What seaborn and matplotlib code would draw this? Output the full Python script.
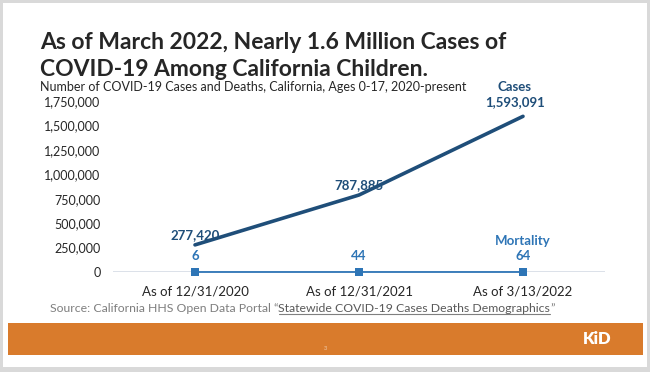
import numpy as np
import pandas as pd
import matplotlib
matplotlib.use('Agg')
import matplotlib.pyplot as plt
from matplotlib.patches import Rectangle
import seaborn as sns

# --- Data ---
DATES = ['As of 12/31/2020', 'As of 12/31/2021', 'As of 3/13/2022']
CASES = [277420, 787885, 1593091]
DEATHS = [6, 44, 64]
Y_TICKS = [0, 250000, 500000, 750000, 1000000, 1250000, 1500000, 1750000]

TITLE_LINES = ['As of March 2022, Nearly 1.6 Million Cases of',
               'COVID-19 Among California Children.']
SUBTITLE = 'Number of COVID-19 Cases and Deaths, California, Ages 0-17, 2020-present'

NAVY = '#1F4E79'
BLUE = '#2E75B6'
ORANGE = '#D97B2C'
DARK = '#262626'

sns.set_style('white')
plt.rcParams['font.family'] = ['Lato', 'DejaVu Sans']

df = pd.DataFrame({'date': DATES, 'cases': CASES, 'deaths': DEATHS})
df['pos'] = range(len(df))

fig = plt.figure(figsize=(6.5, 3.72), dpi=100)
fig.patch.set_facecolor('#D9D9D9')

# slide background
fig.patches.append(Rectangle((3 / 650, 1 - 367 / 372), 644 / 650, 364 / 372,
                             transform=fig.transFigure, facecolor='white',
                             edgecolor='none', zorder=-2))
# orange footer
fig.patches.append(Rectangle((8 / 650, 1 - 355 / 372), 635 / 650, 32 / 372,
                             transform=fig.transFigure, facecolor=ORANGE,
                             edgecolor='none', zorder=-1))

ax = fig.add_axes([113 / 650, 1 - 272 / 372, 492 / 650, 171 / 372])
ax.set_zorder(2)
ax.set_facecolor('none')

sns.lineplot(data=df, x='pos', y='cases', ax=ax, color=NAVY, linewidth=2.6)
sns.lineplot(data=df, x='pos', y='deaths', ax=ax, color=BLUE, linewidth=1.3,
             marker='s', markersize=6, markeredgewidth=0, clip_on=False)

ax.set_xlim(-0.5, 2.5)
ax.set_ylim(0, 1750000)
ax.set_yticks(Y_TICKS)
ax.set_yticklabels([f'{v:,}' for v in Y_TICKS], color=DARK, fontsize=9)
ax.set_xticks(df['pos'])
ax.set_xticklabels(DATES, color=DARK, fontsize=9.5)
ax.tick_params(axis='both', length=0)
ax.tick_params(axis='y', pad=9)
ax.tick_params(axis='x', pad=10)
ax.set_xlabel('')
ax.set_ylabel('')
for s in ax.spines.values():
    s.set_visible(False)
ax.axhline(0, color='#D6DCE5', linewidth=1.2, zorder=0)

# data labels
for i, (c, d) in enumerate(zip(CASES, DEATHS)):
    if i < len(CASES) - 1:
        ax.annotate(f'{c:,}', (i, c), xytext=(0, 2.5), textcoords='offset points',
                    ha='center', va='bottom', color=NAVY, fontsize=9.5,
                    fontweight='bold')
    else:
        ax.annotate(f'Cases\n{c:,}', (i, c), xytext=(-6, 6), textcoords='offset points',
                    ha='center', va='bottom', color=NAVY, fontsize=9.5,
                    fontweight='bold', linespacing=1.3)
    ax.annotate(f'{d}', (i, d), xytext=(0, 7), textcoords='offset points',
                ha='center', va='bottom', color=BLUE, fontsize=9.5,
                fontweight='bold')
ax.annotate('Mortality', (2, DEATHS[-1]), xytext=(0, 18), textcoords='offset points',
            ha='center', va='bottom', color=BLUE, fontsize=9.5, fontweight='bold')

# title and subtitle
for line, base in zip(TITLE_LINES, [49, 76]):
    fig.text(40 / 650, 1 - base / 372, line, ha='left', va='baseline',
             fontsize=16.5, fontweight='bold', color=DARK)
fig.text(40 / 650, 1 - 91 / 372, SUBTITLE, ha='left', va='baseline', fontsize=9,
         color=DARK)

# source line with underlined link part
src_y = 1 - 309 / 372
t1 = fig.text(50 / 650, src_y, 'Source: California HHS Open Data Portal \u201c',
              ha='left', va='center', fontsize=8.8, color='#7F7F7F')
fig.canvas.draw()
r = fig.canvas.get_renderer()
bb1 = t1.get_window_extent(r)
x2 = bb1.x1 / fig.bbox.width
t2 = fig.text(x2, src_y, 'Statewide COVID-19 Cases Deaths Demographics',
              ha='left', va='center', fontsize=8.8, color='#595959')
bb2 = t2.get_window_extent(r)
x3 = bb2.x1 / fig.bbox.width
fig.text(x3, src_y, '\u201d', ha='left', va='center', fontsize=8.8, color='#7F7F7F')
uy = (bb2.y0 + 1) / fig.bbox.height
fig.add_artist(plt.Line2D([x2, x3], [uy, uy], transform=fig.transFigure,
                          color='#7F7F7F', linewidth=0.8))

# footer text
fig.text(325 / 650, 1 - 349 / 372, '3', ha='center', va='center', fontsize=4,
         color='#F2D0B0')
fig.text(597 / 650, 1 - 339 / 372, 'KiD', ha='center', va='center', fontsize=12,
         fontweight='heavy', color='white')

fig.savefig('out.png', dpi=100)
